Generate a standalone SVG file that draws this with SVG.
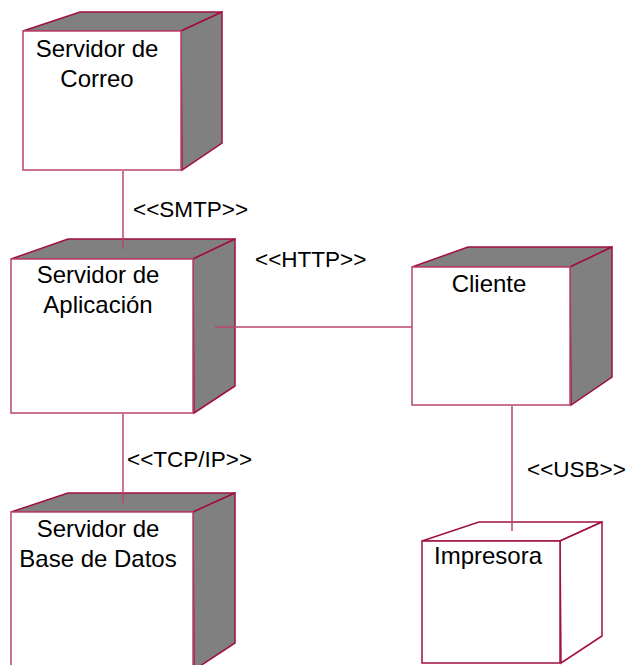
<svg xmlns="http://www.w3.org/2000/svg" width="634" height="665" viewBox="0 0 634 665">
  <style>
    .front { fill: #ffffff; stroke: #b8466e; stroke-width: 1.5; }
    .face { fill: #808080; stroke: #a0103f; stroke-width: 1.5; stroke-linejoin: miter; }
    .face-open { fill: #ffffff; stroke: #a0103f; stroke-width: 1.5; }
    .link { stroke: #b8466e; stroke-width: 1.5; fill: none; }
    .name { font-family: "Liberation Sans", Arial, sans-serif; font-size: 24px; fill: #000000; text-anchor: middle; }
    .stereo { font-family: "Liberation Sans", Arial, sans-serif; font-size: 22.5px; fill: #000000; }
  </style>
  <rect width="634" height="665" fill="#ffffff"/>

  <!-- Servidor de Correo -->
  <g id="servidor-correo">
    <polygon class="face" points="23,31 80,12 222,12 181,31"/>
    <polygon class="face" points="181,31 222,12 222,143 182,170"/>
    <rect class="front" x="23" y="31" width="158" height="139"/>
    <text class="name" x="97" y="57">Servidor de</text>
    <text class="name" x="97" y="87">Correo</text>
  </g>

  <!-- Servidor de Aplicación -->
  <g id="servidor-aplicacion">
    <polygon class="face" points="11,259 68,239 235,239 193,259"/>
    <polygon class="face" points="193,259 235,239 235,386 194,413"/>
    <rect class="front" x="11" y="259" width="182" height="154"/>
    <text class="name" x="98" y="283">Servidor de</text>
    <text class="name" x="98" y="313">Aplicación</text>
  </g>

  <!-- Cliente -->
  <g id="cliente">
    <polygon class="face" points="412,267 468,247 612,247 570,267"/>
    <polygon class="face" points="570,267 612,247 612,377 571,405"/>
    <rect class="front" x="412" y="267" width="158" height="138"/>
    <text class="name" x="489" y="292">Cliente</text>
  </g>

  <!-- Servidor de Base de Datos -->
  <g id="servidor-base-datos">
    <polygon class="face" points="11,512 68,493 235,493 193,512"/>
    <polygon class="face" points="193,512 235,493 235,643 194,670"/>
    <rect class="front" x="11" y="512" width="182" height="160"/>
    <text class="name" x="98" y="537">Servidor de</text>
    <text class="name" x="98" y="567">Base de Datos</text>
  </g>

  <!-- Impresora -->
  <g id="impresora">
    <polygon class="face-open" points="422,541 479,522 602,522 560,541"/>
    <polygon class="face-open" points="560,541 602,522 602,636 561,663"/>
    <rect class="face-open" x="422" y="541" width="138" height="122"/>
    <text class="name" x="488" y="564">Impresora</text>
  </g>

  <!-- connectors, drawn over the node faces -->
  <g id="connectors">
    <line class="link" x1="123" y1="171" x2="123" y2="249"/>
    <line class="link" x1="215" y1="327" x2="412" y2="327"/>
    <line class="link" x1="123" y1="414" x2="123" y2="503"/>
    <line class="link" x1="512" y1="406" x2="512" y2="531"/>
    <text class="stereo" x="133" y="217">&lt;&lt;SMTP&gt;&gt;</text>
    <text class="stereo" x="255" y="267">&lt;&lt;HTTP&gt;&gt;</text>
    <text class="stereo" x="127" y="467">&lt;&lt;TCP/IP&gt;&gt;</text>
    <text class="stereo" x="527" y="477">&lt;&lt;USB&gt;&gt;</text>
  </g>
</svg>
